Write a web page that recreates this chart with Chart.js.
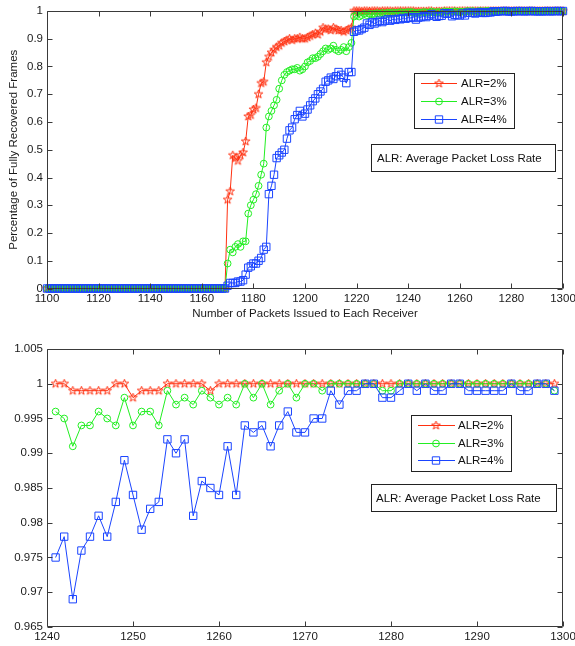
<!DOCTYPE html>
<html>
<head>
<meta charset="utf-8">
<script src="https://cdn.jsdelivr.net/npm/chart.js@4.4.1/dist/chart.umd.min.js"></script>
<style>
    html, body { margin: 0; padding: 0; background: #fff; }
    #wrap { position: relative; width: 575px; height: 646px; overflow: hidden; }
    #wrap canvas { position: absolute; left: 0; }
    #topChart { top: 0; }
    #bottomChart { top: 323px; }
</style>
</head>
<body>
<div id="wrap">
    <canvas id="topChart" width="575" height="323"></canvas>
    <canvas id="bottomChart" width="575" height="323"></canvas>
</div>
<script>
// packets 1100..1240 (top plot only)
const headPackets = [
    1100, 1101, 1102, 1103, 1104, 1105, 1106, 1107, 1108, 1109,
    1110, 1111, 1112, 1113, 1114, 1115, 1116, 1117, 1118, 1119,
    1120, 1121, 1122, 1123, 1124, 1125, 1126, 1127, 1128, 1129,
    1130, 1131, 1132, 1133, 1134, 1135, 1136, 1137, 1138, 1139,
    1140, 1141, 1142, 1143, 1144, 1145, 1146, 1147, 1148, 1149,
    1150, 1151, 1152, 1153, 1154, 1155, 1156, 1157, 1158, 1159,
    1160, 1161, 1162, 1163, 1164, 1165, 1166, 1167, 1168, 1169,
    1170, 1171, 1172, 1173, 1174, 1175, 1176, 1177, 1178, 1179,
    1180, 1181, 1182, 1183, 1184, 1185, 1186, 1187, 1188, 1189,
    1190, 1191, 1192, 1193, 1194, 1195, 1196, 1197, 1198, 1199,
    1200, 1201, 1202, 1203, 1204, 1205, 1206, 1207, 1208, 1209,
    1210, 1211, 1212, 1213, 1214, 1215, 1216, 1217, 1218, 1219,
    1220, 1221, 1222, 1223, 1224, 1225, 1226, 1227, 1228, 1229,
    1230, 1231, 1232, 1233, 1234, 1235, 1236, 1237, 1238, 1239,
    1240
];
// packets 1241..1299 (both plots)
const zoomPackets = [
    1241, 1242, 1243, 1244, 1245, 1246, 1247, 1248, 1249, 1250,
    1251, 1252, 1253, 1254, 1255, 1256, 1257, 1258, 1259, 1260,
    1261, 1262, 1263, 1264, 1265, 1266, 1267, 1268, 1269, 1270,
    1271, 1272, 1273, 1274, 1275, 1276, 1277, 1278, 1279, 1280,
    1281, 1282, 1283, 1284, 1285, 1286, 1287, 1288, 1289, 1290,
    1291, 1292, 1293, 1294, 1295, 1296, 1297, 1298, 1299
];
const endPackets = [1300];

const seriesLabels = ['ALR=2%', 'ALR=3%', 'ALR=4%'];

const alr2Head = [
    0, 0, 0, 0, 0, 0, 0, 0, 0, 0,
    0, 0, 0, 0, 0, 0, 0, 0, 0, 0,
    0, 0, 0, 0, 0, 0, 0, 0, 0, 0,
    0, 0, 0, 0, 0, 0, 0, 0, 0, 0,
    0, 0, 0, 0, 0, 0, 0, 0, 0, 0,
    0, 0, 0, 0, 0, 0, 0, 0, 0, 0,
    0, 0, 0, 0, 0, 0, 0, 0, 0, 0,
    0.32, 0.35, 0.48, 0.47, 0.46, 0.48, 0.49, 0.53, 0.62, 0.625,
    0.645, 0.65, 0.70, 0.74, 0.745, 0.815, 0.835, 0.85, 0.86, 0.87,
    0.875, 0.885, 0.89, 0.895, 0.90, 0.895, 0.90, 0.90, 0.905, 0.90,
    0.90, 0.905, 0.91, 0.915, 0.92, 0.915, 0.925, 0.94, 0.935, 0.935,
    0.93, 0.94, 0.935, 0.93, 0.93, 0.925, 0.93, 0.935, 0.94, 1,
    1, 1, 0.999, 1, 1, 0.999, 1, 1, 1, 0.999,
    1, 1, 1, 1, 0.999, 1, 1, 1, 1, 1,
    1
];
const alr3Head = [
    0, 0, 0, 0, 0, 0, 0, 0, 0, 0,
    0, 0, 0, 0, 0, 0, 0, 0, 0, 0,
    0, 0, 0, 0, 0, 0, 0, 0, 0, 0,
    0, 0, 0, 0, 0, 0, 0, 0, 0, 0,
    0, 0, 0, 0, 0, 0, 0, 0, 0, 0,
    0, 0, 0, 0, 0, 0, 0, 0, 0, 0,
    0, 0, 0, 0, 0, 0, 0, 0, 0, 0,
    0.09, 0.14, 0.13, 0.15, 0.16, 0.15, 0.17, 0.17, 0.27, 0.30,
    0.32, 0.34, 0.37, 0.41, 0.45, 0.58, 0.62, 0.64, 0.66, 0.68,
    0.72, 0.75, 0.77, 0.78, 0.785, 0.79, 0.79, 0.795, 0.785, 0.79,
    0.80, 0.815, 0.82, 0.83, 0.83, 0.835, 0.845, 0.855, 0.865, 0.86,
    0.865, 0.875, 0.86, 0.855, 0.86, 0.87, 0.855, 0.87, 0.885, 0.98,
    0.985, 0.98, 0.985, 0.99, 0.985, 0.99, 0.988, 0.99, 0.992, 0.99,
    0.993, 0.99, 0.994, 0.992, 0.995, 0.993, 0.994, 0.996, 0.994, 0.995,
    0.996
];
const alr4Head = [
    0, 0, 0, 0, 0, 0, 0, 0, 0, 0,
    0, 0, 0, 0, 0, 0, 0, 0, 0, 0,
    0, 0, 0, 0, 0, 0, 0, 0, 0, 0,
    0, 0, 0, 0, 0, 0, 0, 0, 0, 0,
    0, 0, 0, 0, 0, 0, 0, 0, 0, 0,
    0, 0, 0, 0, 0, 0, 0, 0, 0, 0,
    0, 0, 0, 0, 0, 0, 0, 0, 0, 0,
    0.01, 0.02, 0.02, 0.02, 0.025, 0.025, 0.03, 0.05, 0.075, 0.08,
    0.09, 0.09, 0.10, 0.11, 0.14, 0.15, 0.34, 0.37, 0.41, 0.47,
    0.48, 0.49, 0.50, 0.54, 0.57, 0.58, 0.61, 0.625, 0.64, 0.62,
    0.63, 0.645, 0.66, 0.675, 0.685, 0.70, 0.71, 0.72, 0.745, 0.75,
    0.76, 0.755, 0.765, 0.78, 0.77, 0.76, 0.74, 0.78, 0.78, 0.925,
    0.93, 0.93, 0.935, 0.94, 0.955, 0.95, 0.96, 0.955, 0.96, 0.965,
    0.96, 0.965, 0.97, 0.965, 0.97, 0.968, 0.972, 0.97, 0.975, 0.972,
    0.976
];

const alr2Zoom = [
    1, 1, 0.999, 0.999, 0.999, 0.999, 0.999, 1, 1, 0.998,
    0.999, 0.999, 0.999, 1, 1, 1, 1, 1, 0.999, 1,
    1, 1, 1, 1, 1, 1, 1, 1, 1, 1,
    1, 1, 1, 1, 1, 1, 1, 1, 1, 1,
    1, 1, 1, 1, 1, 1, 1, 1, 1, 1,
    1, 1, 1, 1, 1, 1, 1, 1, 1
];
const alr3Zoom = [
    0.996, 0.995, 0.991, 0.994, 0.994, 0.996, 0.995, 0.994, 0.998, 0.994,
    0.996, 0.996, 0.994, 0.999, 0.997, 0.998, 0.997, 0.999, 0.998, 0.997,
    0.998, 0.997, 1, 0.998, 1, 0.997, 0.999, 1, 0.998, 1,
    1, 0.999, 1, 1, 1, 1, 1, 1, 0.999, 0.999,
    1, 1, 1, 1, 1, 1, 1, 1, 1, 1,
    1, 1, 1, 1, 1, 1, 1, 1, 0.999
];
const alr4Zoom = [
    0.975, 0.978, 0.969, 0.976, 0.978, 0.981, 0.978, 0.983, 0.989, 0.984,
    0.979, 0.982, 0.983, 0.992, 0.990, 0.992, 0.981, 0.986, 0.985, 0.984,
    0.991, 0.984, 0.994, 0.993, 0.994, 0.991, 0.994, 0.996, 0.993, 0.993,
    0.995, 0.995, 0.999, 0.997, 0.999, 0.999, 1, 1, 0.998, 0.998,
    0.999, 1, 0.999, 1, 0.999, 0.999, 1, 1, 0.999, 0.999,
    0.999, 0.999, 0.999, 1, 0.999, 0.999, 1, 1, 0.999
];
const alr2End = [1];
const alr3End = [1];
const alr4End = [1];

const topXTicks = [1100, 1120, 1140, 1160, 1180, 1200, 1220, 1240, 1260, 1280, 1300];
const topYTicks = [0, 0.1, 0.2, 0.3, 0.4, 0.5, 0.6, 0.7, 0.8, 0.9, 1];
const bottomXTicks = [1240, 1250, 1260, 1270, 1280, 1290, 1300];
const bottomYTicks = [0.965, 0.97, 0.975, 0.98, 0.985, 0.99, 0.995, 1, 1.005];

const colors = ['#ff3010', '#22ee22', '#1a44ff'];
const fontFamily = "'Liberation Sans', Arial, sans-serif";
const tickFont = { family: fontFamily, size: 11.5 };

function makePentagram(color, r) {
    const size = Math.ceil(r * 2 + 2);
    const c = document.createElement('canvas');
    c.width = size;
    c.height = size;
    const g = c.getContext('2d');
    const cx = size / 2, cy = size / 2;
    g.beginPath();
    for (let k = 0; k < 10; k++) {
        const rr = k % 2 === 0 ? r : r * 0.4;
        const ang = -Math.PI / 2 + k * Math.PI / 5;
        const px = cx + rr * Math.cos(ang);
        const py = cy + rr * Math.sin(ang);
        if (k === 0) g.moveTo(px, py); else g.lineTo(px, py);
    }
    g.closePath();
    g.strokeStyle = color;
    g.lineWidth = 1;
    g.stroke();
    return c;
}

const starImg = makePentagram(colors[0], 4.5);
const styles = [
    { pointStyle: starImg, radius: 4.5, order: 2 },
    { pointStyle: 'circle', radius: 3.4, order: 1 },
    { pointStyle: 'rect', radius: 5.2, order: 0 }
];

function toPoints(xs, ys) {
    return xs.map((x, i) => ({ x: x, y: ys[i] }));
}

function makeDataset(i, points) {
    return {
        label: seriesLabels[i],
        data: points,
        borderColor: colors[i],
        backgroundColor: 'rgba(0,0,0,0)',
        pointBorderColor: colors[i],
        pointBackgroundColor: 'rgba(0,0,0,0)',
        pointStyle: styles[i].pointStyle,
        pointRadius: styles[i].radius,
        pointHoverRadius: styles[i].radius,
        pointBorderWidth: 1,
        borderWidth: 1,
        tension: 0,
        fill: false,
        clip: false,
        order: styles[i].order
    };
}

// frame + inward tick marks on all four sides
const frameTicks = {
    id: 'frameTicks',
    afterDatasetsDraw(chart) {
        const { ctx, chartArea: a, scales: { x, y } } = chart;
        const l = Math.round(a.left) + 0.5, r = Math.round(a.right) - 0.5;
        const t = Math.round(a.top) + 0.5, b = Math.round(a.bottom) - 0.5;
        ctx.save();
        ctx.strokeStyle = '#3a3a3a';
        ctx.lineWidth = 1;
        ctx.beginPath();
        x.ticks.forEach(tk => {
            const px = Math.round(x.getPixelForValue(tk.value)) + 0.5;
            ctx.moveTo(px, t); ctx.lineTo(px, t + 5);
            ctx.moveTo(px, b); ctx.lineTo(px, b - 5);
        });
        y.ticks.forEach(tk => {
            const py = Math.round(y.getPixelForValue(tk.value)) + 0.5;
            ctx.moveTo(l, py); ctx.lineTo(l + 5, py);
            ctx.moveTo(r, py); ctx.lineTo(r - 5, py);
        });
        ctx.rect(l, t, r - l, b - t);
        ctx.stroke();
        ctx.restore();
    }
};

// MATLAB-like legend box plus the note box
const legendBox = {
    id: 'legendBox',
    afterDraw(chart, args, o) {
        const ctx = chart.ctx;
        ctx.save();
        ctx.fillStyle = '#fff';
        ctx.fillRect(o.x, o.y, o.w, o.h);
        ctx.strokeStyle = '#222';
        ctx.lineWidth = 1;
        ctx.strokeRect(o.x + 0.5, o.y + 0.5, o.w, o.h);
        ctx.font = '11.5px ' + fontFamily;
        ctx.textBaseline = 'middle';
        chart.data.datasets.forEach((ds, i) => {
            const ry = o.rows[i];
            ctx.strokeStyle = ds.borderColor;
            ctx.beginPath();
            ctx.moveTo(o.lineX0, ry + 0.5);
            ctx.lineTo(o.lineX1, ry + 0.5);
            ctx.stroke();
            ctx.fillStyle = 'rgba(0,0,0,0)';
            ctx.strokeStyle = ds.pointBorderColor;
            Chart.helpers.drawPoint(ctx, {
                pointStyle: ds.pointStyle, radius: ds.pointRadius, borderWidth: 1, rotation: 0
            }, o.markX, ry + 0.5);
            ctx.fillStyle = '#111';
            ctx.fillText(ds.label, o.textX, ry + 1);
        });
        const n = o.note;
        ctx.fillStyle = '#fff';
        ctx.fillRect(n.x, n.y, n.w, n.h);
        ctx.strokeStyle = '#222';
        ctx.strokeRect(n.x + 0.5, n.y + 0.5, n.w, n.h);
        ctx.fillStyle = '#111';
        ctx.fillText(n.text, n.textX, n.y + n.h / 2 + 1);
        ctx.restore();
    }
};

function makeOptions(cfg) {
    return {
        responsive: false,
        animation: false,
        events: [],
        layout: { padding: { left: 0, right: 12, top: cfg.padTop, bottom: 0 } },
        plugins: {
            legend: { display: false },
            tooltip: { enabled: false },
            legendBox: cfg.legend
        },
        scales: {
            x: {
                type: 'linear',
                min: cfg.xTicks[0],
                max: cfg.xTicks[cfg.xTicks.length - 1],
                afterBuildTicks: s => { s.ticks = cfg.xTicks.map(v => ({ value: v })); },
                afterFit: s => {
                    s.height = cfg.xAxisHeight;
                    s.paddingLeft = 0;
                    s.paddingRight = 0;
                },
                grid: { display: false, drawTicks: false },
                border: { display: false },
                ticks: {
                    color: '#1a1a1a', font: tickFont, padding: 3,
                    maxRotation: 0, autoSkip: false,
                    callback: v => String(v)
                },
                title: {
                    display: !!cfg.xTitle,
                    text: cfg.xTitle || '',
                    color: '#1a1a1a',
                    font: tickFont,
                    padding: { top: 0, bottom: 2 }
                }
            },
            y: {
                type: 'linear',
                min: cfg.yTicks[0],
                max: cfg.yTicks[cfg.yTicks.length - 1],
                afterBuildTicks: s => { s.ticks = cfg.yTicks.map(v => ({ value: v })); },
                afterFit: s => {
                    s.width = 47;
                    s.paddingTop = 0;
                    s.paddingBottom = 0;
                },
                grid: { display: false, drawTicks: false },
                border: { display: false },
                ticks: {
                    color: '#1a1a1a', font: tickFont, padding: 4,
                    autoSkip: false,
                    callback: v => String(+Number(v).toFixed(3))
                },
                title: {
                    display: !!cfg.yTitle,
                    text: cfg.yTitle || '',
                    color: '#1a1a1a',
                    font: tickFont,
                    padding: { top: 7, bottom: 0 }
                }
            }
        }
    };
}

const topX = [...headPackets, ...zoomPackets, ...endPackets];
const topSeries = [
    [...alr2Head, ...alr2Zoom, ...alr2End],
    [...alr3Head, ...alr3Zoom, ...alr3End],
    [...alr4Head, ...alr4Zoom, ...alr4End]
];
const zoomSeries = [alr2Zoom, alr3Zoom, alr4Zoom];

new Chart(document.getElementById('topChart'), {
    type: 'line',
    data: { datasets: topSeries.map((ys, i) => makeDataset(i, toPoints(topX, ys))) },
    options: makeOptions({
        padTop: 11,
        xAxisHeight: 34.5,
        xTicks: topXTicks,
        yTicks: topYTicks,
        xTitle: 'Number of Packets Issued to Each Receiver',
        yTitle: 'Percentage of Fully Recovered Frames',
        legend: {
            x: 414, y: 73, w: 100, h: 55,
            rows: [83, 101, 119],
            lineX0: 421, lineX1: 457, markX: 439, textX: 461,
            note: { x: 371, y: 144, w: 184, h: 27, textX: 377, text: 'ALR: Average Packet Loss Rate' }
        }
    }),
    plugins: [frameTicks, legendBox]
});

new Chart(document.getElementById('bottomChart'), {
    type: 'line',
    data: { datasets: zoomSeries.map((ys, i) => makeDataset(i, toPoints(zoomPackets, ys))) },
    options: makeOptions({
        padTop: 26,
        xAxisHeight: 19,
        xTicks: bottomXTicks,
        yTicks: bottomYTicks,
        legend: {
            x: 411, y: 92, w: 100, h: 56,
            rows: [102, 120, 137],
            lineX0: 418, lineX1: 455, markX: 436, textX: 458,
            note: { x: 371, y: 161, w: 185, h: 27, textX: 376, text: 'ALR: Average Packet Loss Rate' }
        }
    }),
    plugins: [frameTicks, legendBox]
});
</script>
</body>
</html>
